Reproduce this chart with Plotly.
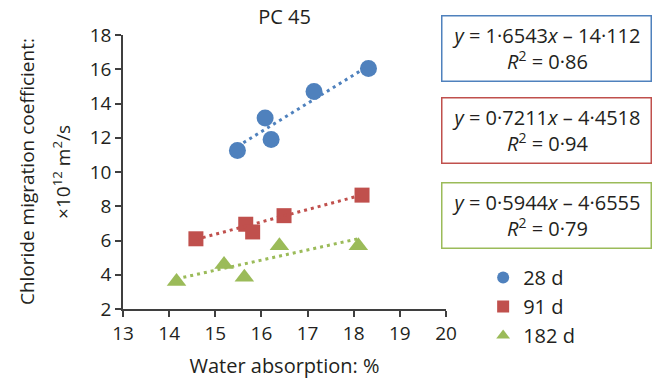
import numpy as np
import plotly.graph_objects as go

# ---- data ----
series_names = ["28 d", "91 d", "182 d"]
x_28 = [15.48, 16.08, 16.21, 17.14, 18.32]
y_28 = [11.25, 13.15, 11.9, 14.7, 16.05]
x_91 = [14.58, 15.66, 15.81, 16.49, 18.18]
y_91 = [6.1, 6.95, 6.5, 7.45, 8.65]
x_182 = [14.16, 15.19, 15.63, 16.39, 18.10]
y_182 = [3.6, 4.6, 3.85, 5.7, 5.7]

# trend line coefficients as printed on the chart
slopes = [1.6543, 0.7211, 0.5944]
intercepts = [-14.112, -4.4518, -4.6555]
r_squared = [0.86, 0.94, 0.79]

x_ticks = [13, 14, 15, 16, 17, 18, 19, 20]
y_ticks = [2, 4, 6, 8, 10, 12, 14, 16, 18]
y_title_lines = ["Chloride migration coefficient:", "×10<sup>12</sup> m<sup>2</sup>/s"]

colors = ["#4F81BD", "#C0504D", "#9BBB59"]
symbols = ["circle", "square", "triangle-up"]
sizes = [17, 15, 17]
FONT = "Open Sans"
TXT = "#231f20"

xs_all = [x_28, x_91, x_182]
ys_all = [y_28, y_91, y_182]

fig = go.Figure()
for name, xs, ys, c, s, sz in zip(series_names, xs_all, ys_all, colors, symbols, sizes):
    fig.add_trace(go.Scatter(x=xs, y=ys, mode="markers", name=name,
                             marker=dict(color=c, symbol=s, size=sz, line=dict(width=0))))

for xs, m, b, c in zip(xs_all, slopes, intercepts, colors):
    lx = np.array([min(xs), max(xs)])
    ly = m * lx + b
    fig.add_trace(go.Scatter(x=lx, y=ly, mode="lines", showlegend=False, hoverinfo="skip",
                             line=dict(color=c, width=3, dash="3px,4px")))

def fmt(v):
    return str(abs(v)).replace(".", "·")

box_y = [0.95, 0.65, 0.342]
annotations = []
for m, b, r2, c, yy in zip(slopes, intercepts, r_squared, colors, box_y):
    txt = (f"<i>y</i> = {fmt(m)}<i>x</i> – {fmt(b)}<br>"
           f"<i>R</i><sup>2</sup> = {fmt(r2)}")
    annotations.append(dict(text=txt, xref="paper", yref="paper", x=1.312, y=yy,
                            xanchor="center", yanchor="middle", showarrow=False,
                            align="center", width=204, height=60, borderpad=2,
                            bordercolor=c, borderwidth=1.5, bgcolor="white",
                            font=dict(family=FONT, size=20, color=TXT)))

# y-axis title as two rotated lines (reference uses wide line spacing)
for line, xp in zip(y_title_lines, [-0.297, -0.189]):
    annotations.append(dict(text=line, xref="paper", yref="paper", x=xp, y=0.5,
                            xanchor="center", yanchor="middle", textangle=-90,
                            showarrow=False, font=dict(family=FONT, size=19, color=TXT)))

axis_common = dict(showline=True, linecolor="#3f3f3f", linewidth=1.5, ticks="outside",
                   ticklen=6, tickwidth=1.5, tickcolor="#3f3f3f", showgrid=False,
                   zeroline=False, automargin=False, tickfont=dict(family=FONT, size=19, color=TXT))

fig.update_layout(
    width=652, height=383,
    margin=dict(l=123, r=206, t=35, b=74, autoexpand=False),
    paper_bgcolor="white", plot_bgcolor="white",
    title=dict(text="PC 45", x=(123 + 446) / 2 / 652, xanchor="center", y=0.955, yanchor="middle",
               font=dict(family=FONT, size=20, color=TXT)),
    xaxis=dict(range=[13, 20], tickvals=x_ticks,
               title=dict(text="Water absorption: %", standoff=14,
                          font=dict(family=FONT, size=20, color=TXT)),
               **axis_common),
    yaxis=dict(range=[2, 18], tickvals=y_ticks, **axis_common),
    legend=dict(x=1.115, xanchor="left", y=0.186, yanchor="top", itemsizing="constant",
                font=dict(family=FONT, size=20, color=TXT), bgcolor="rgba(0,0,0,0)",
                tracegroupgap=0, itemwidth=30),
    annotations=annotations,
    showlegend=True,
)

fig.write_html("out.html", config={"displayModeBar": False},
               post_script="document.body.style.margin='0';")
